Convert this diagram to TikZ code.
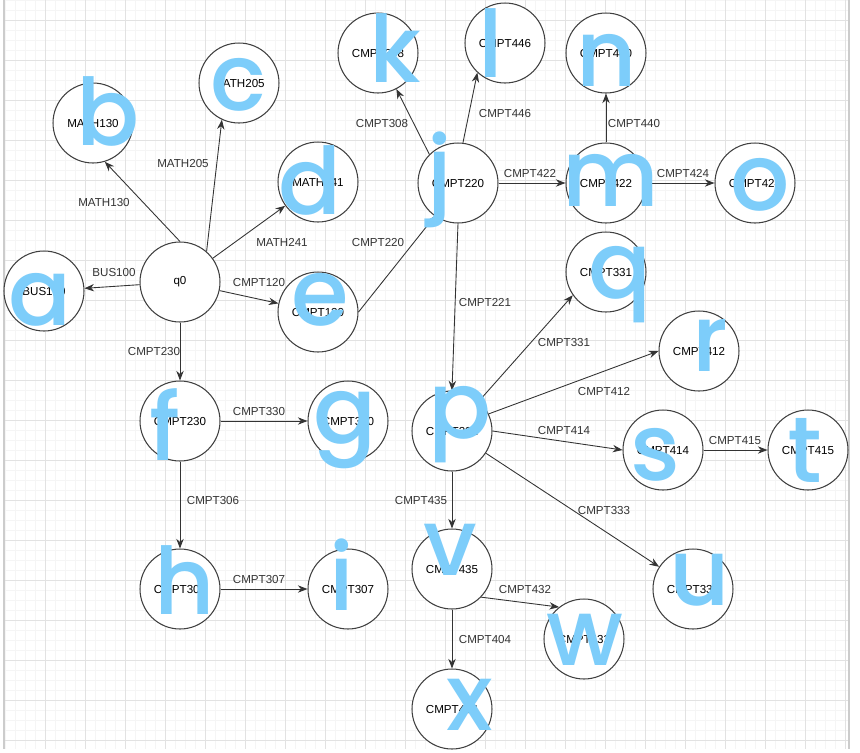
\documentclass[tikz,border=0pt]{standalone}
\usepackage{fontspec}
\setmainfont{Liberation Sans}
\newfontfamily\handfont{Poppins}[BoldFont={Poppins Medium}]
\usetikzlibrary{arrows.meta}
\definecolor{gridmajor}{RGB}{226,226,226}
\definecolor{gridminor}{RGB}{245,245,245}
\definecolor{inkblue}{RGB}{125,205,250}
\begin{document}
\begin{tikzpicture}[x=0.02cm,y=-0.02cm,
    state/.style={circle,draw=black!75,fill=white,line width=0.6pt,
        minimum size=1.6cm,inner sep=0pt,font=\fontsize{6.6}{8}\selectfont},
    trans/.style={draw=black!80,line width=0.5pt,-{Stealth[length=5.5pt,width=4.2pt]}},
    edgelabel/.style={font=\fontsize{6.6}{8}\selectfont,text=black!80,inner sep=0pt},
    scribble/.style={font=\handfont\bfseries\fontsize{53}{53}\selectfont,text=inkblue,inner sep=0pt}]
    \useasboundingbox (0,0) rectangle (860,752);
    % background grid
    \foreach \gx in {5,15,...,845} \draw [gridminor,line width=0.3pt] (\gx,0) -- (\gx,749);
    \foreach \gy in {0,10,...,740} \draw [gridminor,line width=0.3pt] (5,\gy) -- (848,\gy);
    \foreach \gx in {45,85,...,845} \draw [gridmajor,line width=0.4pt] (\gx,0) -- (\gx,749);
    \foreach \gy in {20,60,...,740} \draw [gridmajor,line width=0.4pt] (5,\gy) -- (848,\gy);
    \draw [black!20,line width=0.8pt] (4,0) -- (4,749) (849,0) -- (849,749);

    % states
    \node [state] (q0) at (180,282) {q0};
    \node [state] (bus100) at (44,291) {BUS100};
    \node [state] (math130) at (93,123) {MATH130};
    \node [state] (math205) at (239,83) {MATH205};
    \node [state] (math241) at (318,182) {MATH241};
    \node [state] (cmpt120) at (318,312) {CMPT120};
    \node [state] (cmpt230) at (180,421) {CMPT230};
    \node [state] (cmpt330) at (348,421) {CMPT330};
    \node [state] (cmpt306) at (180,589) {CMPT306};
    \node [state] (cmpt307) at (348,589) {CMPT307};
    \node [state] (cmpt220) at (458,183) {CMPT220};
    \node [state] (cmpt308) at (378,53) {CMPT308};
    \node [state] (cmpt446) at (505,43) {CMPT446};
    \node [state] (cmpt422) at (606,183) {CMPT422};
    \node [state] (cmpt440) at (606,53) {CMPT440};
    \node [state] (cmpt424) at (755,183) {CMPT424};
    \node [state] (cmpt331) at (606,272) {CMPT331};
    \node [state] (cmpt412) at (699,351) {CMPT412};
    \node [state] (cmpt221) at (452,431) {CMPT221};
    \node [state] (cmpt414) at (663,450) {CMPT414};
    \node [state] (cmpt415) at (808,450) {CMPT415};
    \node [state] (cmpt333) at (693,589) {CMPT333};
    \node [state] (cmpt435) at (452,569) {CMPT435};
    \node [state] (cmpt432) at (584,639) {CMPT432};
    \node [state] (cmpt404) at (452,709) {CMPT404};

    % transitions
    \draw [trans] (q0) -- (bus100);
    \draw [trans] (q0.north) -- (math130.287);
    \draw [trans] (q0.49) -- (math205.245);
    \draw [trans] (q0) -- (math241);
    \draw [trans] (q0) -- (cmpt120);
    \draw [trans] (q0) -- (cmpt230);
    \draw [trans] (cmpt230) -- (cmpt330);
    \draw [trans] (cmpt230) -- (cmpt306);
    \draw [trans] (cmpt306) -- (cmpt307);
    \draw [trans] (cmpt120.east) -- (cmpt220.235);
    \draw [trans] (cmpt220.135) -- (cmpt308.297);
    \draw [trans] (cmpt220.83) -- (cmpt446.227);
    \draw [trans] (cmpt220) -- (cmpt422);
    \draw [trans] (cmpt422) -- (cmpt440);
    \draw [trans] (cmpt422) -- (cmpt424);
    \draw [trans] (cmpt220.south) -- (cmpt221.north);
    \draw [trans] (cmpt221.48) -- (cmpt331.215);
    \draw [trans] (cmpt221.25) -- (cmpt412.west);
    \draw [trans] (cmpt221.east) -- (cmpt414.west);
    \draw [trans] (cmpt414) -- (cmpt415);
    \draw [trans] (cmpt221) -- (cmpt333);
    \draw [trans] (cmpt221) -- (cmpt435);
    \draw [trans] (cmpt435.-44) -- (cmpt432.128);
    \draw [trans] (cmpt435) -- (cmpt404);

    % transition labels
    \foreach \lx/\ly/\txt [count=\i] in {114/272/BUS100, 104/202/MATH130, 183/163/MATH205,
        282/242/MATH241, 259/282/CMPT120, 154/351/CMPT230, 259/411/CMPT330,
        213/500/CMPT306, 259/579/CMPT307, 378/242/CMPT220, 382/123/CMPT308,
        505/113/CMPT446, 530/173/CMPT422, 634/123/CMPT440, 683/173/CMPT424,
        485/302/CMPT221, 564/342/CMPT331, 604/391/CMPT412, 564/430/CMPT414,
        735/440/CMPT415, 604/510/CMPT333, 421/500/CMPT435, 525/589/CMPT432,
        485/639/CMPT404}
        \node [edgelabel] (lab\i) at (\lx,\ly) {\txt};

    % handwritten letters on top
    \foreach \hx/\hy/\ch in {40/300/a, 108/111/b, 238/85/c, 310/180/d, 320/300/e,
        165/425/f, 345/430/g, 185/580/h, 342/575/i, 440/180/j, 395/48/k,
        491/43/l, 611/180/m, 607/60/n, 760/185/o, 460/425/p, 620/285/q,
        710/345/r, 655/455/s, 805/450/t, 700/580/u, 450/550/v, 585/640/w,
        470/705/x}
        \node [scribble] (hand\ch) at (\hx,\hy) {\ch};
\end{tikzpicture}
\end{document}
